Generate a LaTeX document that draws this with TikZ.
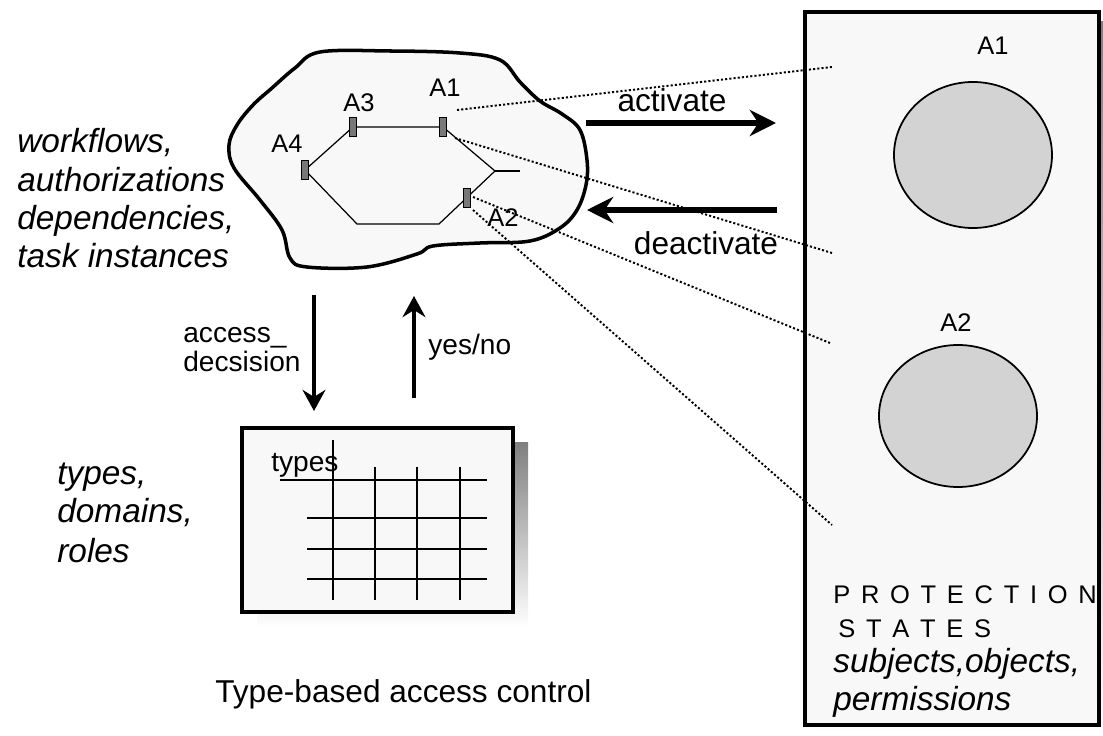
\documentclass[tikz,border=0pt]{standalone}
\usepackage{fontspec}
\setmainfont{Liberation Sans}
\usetikzlibrary{arrows.meta}

\definecolor{paper}{HTML}{F8F8F8}
\definecolor{shade}{HTML}{999999}
\definecolor{disc}{HTML}{D3D3D3}
\definecolor{handle}{HTML}{787878}

\newcommand{\wide}[1]{{\spaceskip 6.1pt\relax #1}}

\tikzset{
  txt/.style={inner sep=0pt, anchor=base west, font=\fontsize{18}{21}\selectfont},
  txtit/.style={txt, font=\fontsize{19}{22}\selectfont\itshape},
  lab/.style={inner sep=0pt, anchor=base west, font=\fontsize{14.5}{17}\selectfont},
  small/.style={inner sep=0pt, anchor=base west, font=\fontsize{16}{19}\selectfont},
  spaced/.style={inner sep=0pt, anchor=base west, font=\fontsize{14.5}{16}\selectfont},
  dots/.style={line width=1.1pt, dash pattern=on 1.2pt off 1.2pt},
  flow/.style={line width=3.6pt, -{Stealth[length=15pt,width=15pt,inset=5pt]}},
  ask/.style={line width=2.8pt, -{Stealth[length=12pt,width=13pt,inset=4pt]}},
  handlebox/.style={draw, fill=handle, line width=0.4pt, minimum width=3.6pt,
    minimum height=11pt, inner sep=0pt},
}

\begin{document}
\begin{tikzpicture}[x=0.02cm,y=-0.02cm]
\useasboundingbox (0,0) rectangle (1103,736);

% workflow cloud
\draw[line width=2pt, fill=paper] plot[smooth cycle, tension=0.6] coordinates {
  (320,52) (390,51) (460,53) (500,60) (520,82) (540,101) (562,114) (580,130)
  (587,160) (586,185) (577,210) (560,228) (530,241) (480,243) (433,246)
  (417,254) (367,267) (307,267) (290,258) (282,230) (260,200) (234,168)
  (229,145) (237,125) (253,105) (272,88) (295,68)};

\coordinate (w4) at (305,170);
\coordinate (w3) at (353,127);
\coordinate (w1) at (443,127);
\coordinate (wr) at (495,171);
\coordinate (ws) at (520,171);
\coordinate (w2) at (467,198);
\coordinate (wbr) at (439,224);
\coordinate (wbl) at (357,224);

\draw[line width=0.7pt] (w4) -- (w3) -- (w1) -- (wr) -- (wbr) -- (wbl) -- cycle;
\draw[line width=0.7pt] (wr) -- (ws);

\node[handlebox] (hA4) at (w4) {};
\node[handlebox] (hA3) at (w3) {};
\node[handlebox] (hA1) at (w1) {};
\node[handlebox] (hA2) at (w2) {};

\node[lab] (lA1) at (429,97) {A1};
\node[lab] (lA3) at (343,112) {A3};
\node[lab] (lA4) at (271,153) {A4};
\node[lab] (lA2) at (487,227) {A2};

% left texts
\node[txtit] (wf1) at (17,153) {workflows,};
\node[txtit] (wf2) at (17,192) {authorizations};
\node[txtit] (wf3) at (17,230) {dependencies,};
\node[txtit] (wf4) at (17,268) {task instances};

\node[txtit] (ty1) at (57,485) {types,};
\node[txtit] (ty2) at (57,523) {domains,};
\node[txtit] (ty3) at (57,563) {roles};

% type table
\fill[shade] (257,443) rectangle (528,627);
\draw[line width=1.8pt, fill=paper] (242,428) rectangle (513,612);
\draw[line width=0.7pt] (280,480) -- (487,480);
\foreach \y in {518,549,579}
  \draw[line width=0.7pt] (307,\y) -- (487,\y);
\draw[line width=0.7pt] (333,440) -- (333,600);
\foreach \x in {375,417,460}
  \draw[line width=0.7pt] (\x,467) -- (\x,600);
\node[small] (tyl) at (271,472) {types};

\node[txt] (cap) at (215,703) {Type-based access control};

% decision arrows
\coordinate (d1) at (314,295);
\coordinate (d2) at (314,411);
\coordinate (r1) at (414,398);
\coordinate (r2) at (414,296);
\draw[ask] (d1) -- (d2);
\draw[ask] (r1) -- (r2);
\node[small] (acc1) at (183,343) {access\_};
\node[small] (acc2) at (183,372) {decsision};
\node[small] (yn) at (428,355) {yes/no};

% protection states
\fill[shade] (817,22) rectangle (1110,733);
\draw[line width=2pt, fill=paper] (805,12) rectangle (1099,725);
\draw[line width=1pt, fill=disc] (973,155) ellipse [x radius=79, y radius=73];
\draw[line width=1pt, fill=disc] (958,416) ellipse [x radius=79, y radius=71];
\node[lab] (sA1) at (977,55) {A1};
\node[lab] (sA2) at (940,332) {A2};

\node[spaced] (ps1) at (833,603) {\wide{P R O T E C T I O N}};
\node[spaced] (ps2) at (838,638) {\wide{S T A T E S}};
\node[txtit] (ps3) at (833,672) {subjects,objects,};
\node[txtit] (ps4) at (833,710) {permissions};

% activate / deactivate
\coordinate (a1) at (586,123);
\coordinate (a2) at (776,123);
\coordinate (b1) at (777,210);
\coordinate (b2) at (587,210);
\draw[flow] (a1) -- (a2);
\draw[flow] (b1) -- (b2);
\node[txt, anchor=base] (act) at (672,112) {activate};
\node[txt, anchor=base] (deact) at (706,255) {deactivate};

% mapping lines
\coordinate (m1) at (457,110);
\coordinate (m2) at (455,138);
\coordinate (m3) at (473,197);
\coordinate (m4) at (473,210);
\coordinate (n1) at (832,67);
\coordinate (n2) at (832,253);
\coordinate (n3) at (830,343);
\coordinate (n4) at (832,525);
\draw[dots] (m1) -- (n1);
\draw[dots] (m2) -- (n2);
\draw[dots] (m3) -- (n3);
\draw[dots] (m4) -- (n4);

\end{tikzpicture}
\end{document}
